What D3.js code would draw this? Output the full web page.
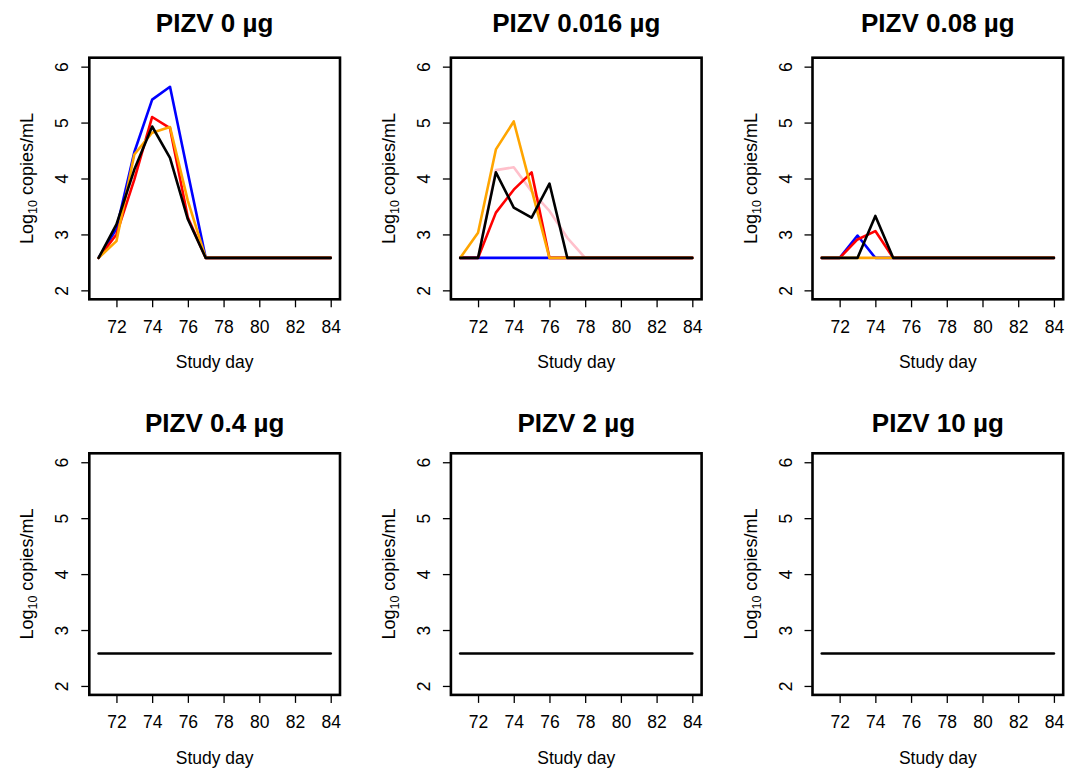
<!DOCTYPE html>
<html lang="en">
<head>
  <meta charset="UTF-8">
  <title>PIZV viral load</title>
  <script src="https://d3js.org/d3.v7.min.js"></script>
  <style>
    body {
      margin: 0;
      background: #fff;
      font-family: "Liberation Sans", Arial, sans-serif;
    }
  </style>
</head>
<body>
  <div id="chart"></div>

  <script>
    // study days sampled
    const days = [71, 72, 73, 74, 75, 76, 77, 78, 79, 80, 81, 82, 83, 84];
    const xTicks = [72, 74, 76, 78, 80, 82, 84];
    const yTicks = [2, 3, 4, 5, 6];
    const groups = ["PIZV 0 µg", "PIZV 0.016 µg", "PIZV 0.08 µg", "PIZV 0.4 µg", "PIZV 2 µg", "PIZV 10 µg"];
    const animalColors = ["pink", "blue", "red", "orange", "black"];

    // log10 copies/mL per animal (order: pink, blue, red, orange, black); null = not shown
    const dose0 = [
      null,
      [2.58, 3.10, 4.47, 5.41, 5.64, 4.10, 2.58, 2.58, 2.58, 2.58, 2.58, 2.58, 2.58, 2.58],
      [2.58, 3.00, 3.98, 5.10, 4.90, 3.30, 2.58, 2.58, 2.58, 2.58, 2.58, 2.58, 2.58, 2.58],
      [2.58, 2.88, 4.43, 4.82, 4.92, 3.60, 2.58, 2.58, 2.58, 2.58, 2.58, 2.58, 2.58, 2.58],
      [2.58, 3.18, 4.16, 4.93, 4.37, 3.27, 2.58, 2.58, 2.58, 2.58, 2.58, 2.58, 2.58, 2.58]
    ];
    const dose0016 = [
      [2.58, 2.58, 4.15, 4.20, 3.77, 3.42, 2.94, 2.58, 2.58, 2.58, 2.58, 2.58, 2.58, 2.58],
      [2.58, 2.58, 2.58, 2.58, 2.58, 2.58, 2.58, 2.58, 2.58, 2.58, 2.58, 2.58, 2.58, 2.58],
      [2.58, 2.58, 3.39, 3.80, 4.11, 2.58, 2.58, 2.58, 2.58, 2.58, 2.58, 2.58, 2.58, 2.58],
      [2.58, 3.03, 4.52, 5.02, 3.80, 2.58, 2.58, 2.58, 2.58, 2.58, 2.58, 2.58, 2.58, 2.58],
      [2.58, 2.58, 4.11, 3.48, 3.30, 3.91, 2.58, 2.58, 2.58, 2.58, 2.58, 2.58, 2.58, 2.58]
    ];
    const dose008 = [
      null,
      [2.58, 2.58, 2.98, 2.58, 2.58, 2.58, 2.58, 2.58, 2.58, 2.58, 2.58, 2.58, 2.58, 2.58],
      [2.58, 2.58, 2.91, 3.06, 2.58, 2.58, 2.58, 2.58, 2.58, 2.58, 2.58, 2.58, 2.58, 2.58],
      [2.58, 2.58, 2.58, 2.58, 2.58, 2.58, 2.58, 2.58, 2.58, 2.58, 2.58, 2.58, 2.58, 2.58],
      [2.58, 2.58, 2.58, 3.33, 2.58, 2.58, 2.58, 2.58, 2.58, 2.58, 2.58, 2.58, 2.58, 2.58]
    ];
    const dose04 = [null, null, null, null,
      [2.58, 2.58, 2.58, 2.58, 2.58, 2.58, 2.58, 2.58, 2.58, 2.58, 2.58, 2.58, 2.58, 2.58]];
    const dose2 = [null, null, null, null,
      [2.58, 2.58, 2.58, 2.58, 2.58, 2.58, 2.58, 2.58, 2.58, 2.58, 2.58, 2.58, 2.58, 2.58]];
    const dose10 = [null, null, null, null,
      [2.58, 2.58, 2.58, 2.58, 2.58, 2.58, 2.58, 2.58, 2.58, 2.58, 2.58, 2.58, 2.58, 2.58]];
    const panelData = [dose0, dose0016, dose008, dose04, dose2, dose10];

    const width = 1077, height = 769;
    const colLeft = [89.3, 450.9, 812.5];
    const rowTop = [57.7, 453.3];
    const titleBase = [32.3, 432.3];
    const pw = 250.7, ph = 241.6;
    const fontAxis = 17.5;

    const svg = d3.select("#chart").append("svg")
      .attr("width", width)
      .attr("height", height);

    // R-style padded ranges (4%)
    const x = d3.scaleLinear().domain([70.48, 84.52]).range([0, pw]);
    const y = d3.scaleLinear().domain([1.84, 6.16]).range([ph, 0]);

    const line = d3.line()
      .x((d, i) => x(days[i]))
      .y(d => y(d));

    groups.forEach((name, p) => {
      const col = p % 3, row = Math.floor(p / 3);
      const g = svg.append("g")
        .attr("transform", `translate(${colLeft[col]},${rowTop[row]})`);

      panelData[p].forEach((vals, k) => {
        if (!vals) return;
        g.append("path")
          .attr("d", line(vals))
          .attr("fill", "none")
          .attr("stroke", animalColors[k])
          .attr("stroke-width", 2.6)
          .attr("stroke-linejoin", "round")
          .attr("stroke-linecap", "round");
      });

      g.append("rect")
        .attr("width", pw)
        .attr("height", ph)
        .attr("fill", "none")
        .attr("stroke", "#000")
        .attr("stroke-width", 2.6);

      const xa = g.append("g")
        .attr("transform", `translate(0,${ph})`)
        .call(d3.axisBottom(x).tickValues(xTicks).tickFormat(d3.format("d")).tickSize(8).tickSizeOuter(0));
      xa.select(".domain").remove();
      xa.selectAll("line").attr("stroke-width", 1.3);
      xa.selectAll("text")
        .attr("y", 33.5).attr("dy", 0)
        .attr("font-size", fontAxis)
        .attr("font-family", "Liberation Sans, Arial, sans-serif")
        .attr("fill", "#000");

      const ya = g.append("g")
        .call(d3.axisLeft(y).tickValues(yTicks).tickFormat(d3.format("d")).tickSize(8).tickSizeOuter(0));
      ya.select(".domain").remove();
      ya.selectAll("line").attr("stroke-width", 1.3);
      ya.selectAll("text")
        .attr("transform", "rotate(-90)")
        .attr("x", 0).attr("y", -21).attr("dy", 0)
        .attr("text-anchor", "middle")
        .attr("font-size", fontAxis)
        .attr("font-family", "Liberation Sans, Arial, sans-serif")
        .attr("fill", "#000");

      svg.append("text")
        .attr("x", colLeft[col] + pw / 2)
        .attr("y", titleBase[row])
        .attr("text-anchor", "middle")
        .attr("font-size", 26)
        .attr("font-weight", "bold")
        .text(name);

      g.append("text")
        .attr("x", pw / 2)
        .attr("y", ph + 69)
        .attr("text-anchor", "middle")
        .attr("font-size", fontAxis)
        .text("Study day");

      const yl = g.append("text")
        .attr("transform", `translate(-56,${ph / 2}) rotate(-90)`)
        .attr("text-anchor", "middle")
        .attr("font-size", 18);
      yl.append("tspan").text("Log");
      yl.append("tspan").attr("font-size", 12.5).attr("dy", 4).text("10");
      yl.append("tspan").attr("dy", -4).text(" copies/mL");
    });
  </script>
</body>
</html>
